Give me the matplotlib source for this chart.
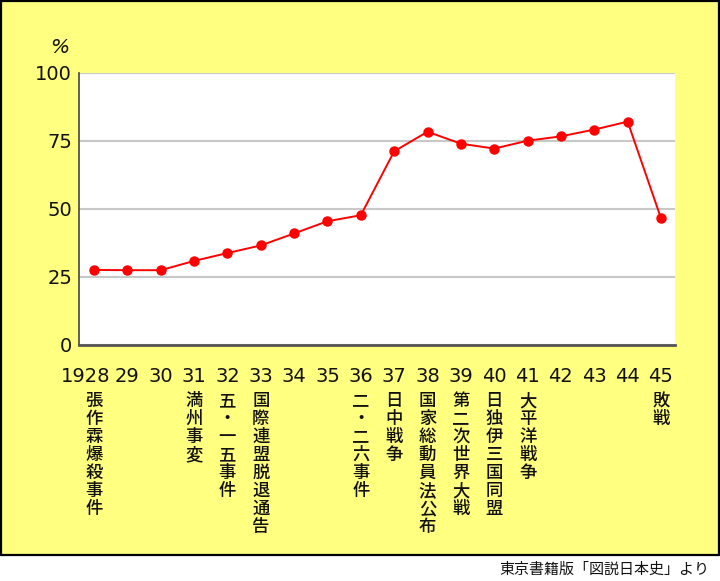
import matplotlib.pyplot as plt
from matplotlib.patches import Rectangle
from matplotlib.transforms import ScaledTranslation

plt.rcParams['font.family'] = ['DejaVu Sans', 'Noto Sans CJK JP']

# 年と割合(%)
years = ["1928", "29", "30", "31", "32", "33", "34", "35", "36",
         "37", "38", "39", "40", "41", "42", "43", "44", "45"]
values = [27.6, 27.5, 27.5, 30.9, 33.8, 36.6, 41.0, 45.5, 47.7,
          71.2, 78.4, 74.0, 72.2, 75.1, 76.7, 79.2, 82.1, 46.6]
events = ["張作霖爆殺事件", "", "", "満州事変", "五・一五事件", "国際連盟脱退通告",
          "", "", "二・二六事件", "日中戦争", "国家総動員法公布", "第二次世界大戦",
          "日独伊三国同盟", "大平洋戦争", "", "", "", "敗戦"]
yticks = [0, 25, 50, 75, 100]

jp = ['Noto Sans CJK JP', 'DejaVu Sans']

fig = plt.figure(figsize=(7.2, 5.81), dpi=100)

# 黄色い枠
fig.patches.append(Rectangle((0.0015, 0.0447), 0.9965, 0.953,
                             transform=fig.transFigure, facecolor="#ffff80",
                             edgecolor="black", linewidth=1.6, zorder=-5))

ax = fig.add_axes([0.1097, 0.4062, 0.8278, 0.4682])
ax.set_facecolor("white")

x = range(len(years))
ax.plot(x, values, color="#ff0000", linewidth=1.4, marker="o",
        markersize=6.5, zorder=3)

ax.set_xlim(-0.45, len(years) - 0.58)
ax.set_ylim(0, 100)
ax.set_yticks(yticks)
ax.set_xticks(list(x))
ax.set_xticklabels(years)
ax.yaxis.grid(True, color="#c8c8c8", linewidth=1.5)
ax.set_axisbelow(True)

for s in ["top", "right"]:
    ax.spines[s].set_visible(False)
ax.spines["left"].set_color("#444444")
ax.spines["left"].set_linewidth(1.2)
ax.spines["bottom"].set_color("#555555")
ax.spines["bottom"].set_linewidth(2)

ax.tick_params(axis="both", length=0, labelsize=14, colors="#111111")
ax.tick_params(axis="y", pad=5)
ax.tick_params(axis="x", pad=16)

# 1928だけ少し左へ
lab = ax.get_xticklabels()[0]
lab.set_transform(lab.get_transform() + ScaledTranslation(-6 / 72, 0, fig.dpi_scale_trans))

# 出来事(縦書き)
for i, ev in enumerate(events):
    if not ev:
        continue
    ax.annotate("\n".join(ev), xy=(i, 0), xycoords=("data", "axes fraction"),
                xytext=(0, -34), textcoords="offset points",
                ha="center", va="top", fontsize=12.5, linespacing=1.0,
                color="#111111", family=jp, weight="medium")

fig.text(0.083, 0.919, "%", ha="center", va="center", fontsize=14.5,
         style="italic", color="#111111")
fig.text(0.985, 0.019, "東京書籍版「図説日本史」より", ha="right", va="center",
         fontsize=10.8, color="#111111", family=jp)

fig.savefig("out.png", dpi=100, facecolor="white")
